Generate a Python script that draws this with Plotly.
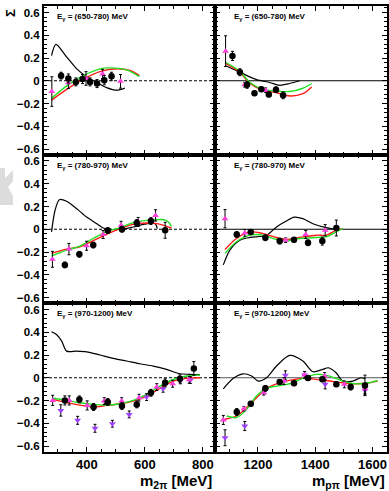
import plotly.graph_objects as go
from plotly.subplots import make_subplots

# ---------------- data ----------------
# Panel labels
panel_labels = ["(650-780)", "(780-970)", "(970-1200)"]

# ---- Row 1 left (m_2pi) ----
r1l_blk_x = [311, 336, 362, 385, 411, 435, 460, 485]
r1l_blk_y = [0.045, 0.02, -0.01, 0.015, -0.01, -0.025, 0.005, 0.04]
r1l_blk_e = [0.03, 0.04, 0.035, 0.04, 0.035, 0.035, 0.04, 0.035]
r1l_mag_x = [279, 336, 397, 454, 516]
r1l_mag_y = [-0.095, -0.018, 0.02, 0.06, -0.005]
r1l_mag_e = [0.13, 0.05, 0.06, 0.04, 0.06]
r1l_cb_x = [278, 293, 330, 365, 399, 434, 468, 503, 531]
r1l_cb_y = [0.22, 0.32, 0.21, 0.105, 0.036, -0.015, -0.06, -0.083, -0.065]
r1l_cr_x = [278, 330, 388, 445, 503, 549, 581]
r1l_cr_y = [-0.17, -0.075, 0.015, 0.08, 0.105, 0.09, 0.045]
r1l_cg_x = [278, 330, 388, 445, 479, 537, 581]
r1l_cg_y = [-0.155, -0.045, 0.045, 0.105, 0.113, 0.095, 0.036]

# ---- Row 1 right (m_ppi) ----
r1r_blk_x = [1111, 1137, 1162, 1188, 1212, 1238, 1263, 1288]
r1r_blk_y = [0.218, 0.075, -0.036, -0.11, -0.075, -0.12, -0.078, -0.128]
r1r_blk_e = [0.04, 0.03, 0.03, 0.02, 0.02, 0.02, 0.025, 0.03]
r1r_mag_x = [1087, 1154, 1227]
r1r_mag_y = [0.26, -0.036, -0.083]
r1r_mag_e = [0.135, 0.02, 0.02]
r1r_cb_x = [1085, 1137, 1195, 1241, 1276, 1311, 1346]
r1r_cb_y = [0.134, 0.075, 0.01, -0.015, -0.04, -0.024, 0.0]
r1r_cr_x = [1085, 1137, 1172, 1218, 1265, 1311, 1357, 1388]
r1r_cr_y = [0.155, 0.075, -0.024, -0.083, -0.105, -0.134, -0.114, -0.054]
r1r_cg_x = [1085, 1137, 1172, 1218, 1265, 1311, 1357, 1388]
r1r_cg_y = [0.165, 0.084, -0.015, -0.075, -0.09, -0.095, -0.066, -0.024]

# ---- Row 2 left ----
r2l_blk_x = [324, 374, 422, 472, 521, 572, 621, 670]
r2l_blk_y = [-0.313, -0.22, -0.139, -0.011, 0.0, 0.055, 0.072, -0.009]
r2l_blk_e = [0.025, 0.025, 0.025, 0.025, 0.025, 0.03, 0.03, 0.07]
r2l_mag_x = [281, 338, 399, 456, 518, 577, 637]
r2l_mag_y = [-0.264, -0.174, -0.145, -0.046, 0.035, 0.064, 0.122]
r2l_mag_e = [0.07, 0.05, 0.04, 0.035, 0.035, 0.04, 0.05]
r2l_cb_x = [278, 290, 305, 330, 365, 399, 434, 456, 479, 520, 560, 600, 635, 643]
r2l_cb_y = [-0.023, 0.165, 0.26, 0.246, 0.18, 0.107, 0.049, 0.011, 0.0, 0.0, 0.02, 0.045, 0.05, 0.006]
r2l_cr_x = [278, 330, 376, 422, 468, 514, 560, 606, 641, 675, 692]
r2l_cr_y = [-0.212, -0.174, -0.154, -0.10, -0.044, 0.006, 0.043, 0.055, 0.05, 0.026, 0.011]
r2l_cg_x = [278, 330, 376, 422, 468, 514, 560, 606, 666, 681, 692]
r2l_cg_y = [-0.235, -0.183, -0.148, -0.081, -0.023, 0.015, 0.058, 0.078, 0.084, 0.064, 0.026]

# ---- Row 2 right ----
r2r_blk_x = [1126, 1175, 1226, 1276, 1326, 1375, 1425, 1474]
r2r_blk_y = [-0.046, -0.023, -0.075, -0.104, -0.093, -0.119, -0.104, 0.011]
r2r_blk_e = [0.025, 0.02, 0.025, 0.025, 0.02, 0.025, 0.035, 0.07]
r2r_mag_x = [1085, 1154, 1297, 1367, 1435]
r2r_mag_y = [0.093, -0.032, -0.096, -0.046, -0.009]
r2r_mag_e = [0.08, 0.03, 0.02, 0.035, 0.05]
r2r_cb_x = [1079, 1102, 1137, 1172, 1230, 1265, 1299, 1327, 1357, 1392, 1438, 1473]
r2r_cb_y = [-0.313, -0.183, -0.096, -0.072, -0.052, 0.02, 0.072, 0.107, 0.093, 0.049, 0.015, 0.0]
r2r_cr_x = [1085, 1125, 1172, 1218, 1265, 1299, 1346, 1404, 1438, 1473, 1496]
r2r_cr_y = [-0.177, -0.081, -0.023, -0.038, -0.072, -0.09, -0.072, -0.052, -0.052, -0.009, 0.006]
r2r_cg_x = [1085, 1125, 1172, 1218, 1265, 1299, 1346, 1404, 1438, 1473, 1496]
r2r_cg_y = [-0.212, -0.11, -0.052, -0.052, -0.09, -0.101, -0.081, -0.072, -0.067, -0.023, 0.006]

# ---- Row 3 left ----
r3l_blk_x = [324, 374, 423, 472, 521, 572, 621, 670, 721, 769]
r3l_blk_y = [-0.199, -0.19, -0.257, -0.213, -0.248, -0.234, -0.132, -0.044, -0.009, 0.082]
r3l_blk_e = [0.04, 0.03, 0.03, 0.03, 0.03, 0.03, 0.03, 0.035, 0.035, 0.06]
r3l_mag_x = [282, 339, 401, 460, 520, 580, 641, 696, 753]
r3l_mag_y = [-0.199, -0.199, -0.243, -0.205, -0.205, -0.175, -0.082, -0.053, -0.018]
r3l_mag_e = [0.045, 0.04, 0.04, 0.03, 0.03, 0.03, 0.03, 0.03, 0.03]
r3l_pur_x = [310, 368, 428, 488, 546, 606, 663, 723, 757]
r3l_pur_y = [-0.287, -0.374, -0.444, -0.404, -0.322, -0.17, -0.097, -0.023, -0.02]
r3l_pur_e = [0.05, 0.035, 0.035, 0.03, 0.03, 0.03, 0.03, 0.03, 0.03]
r3l_cb_x = [278, 295, 313, 330, 365, 399, 445, 491, 537, 583, 629, 675, 721, 755, 790]
r3l_cb_y = [0.404, 0.38, 0.322, 0.234, 0.234, 0.228, 0.2, 0.17, 0.147, 0.123, 0.103, 0.074, 0.035, 0.03, 0.025]
r3l_cr_x = [284, 330, 376, 422, 468, 514, 560, 606, 652, 698, 744, 790]
r3l_cr_y = [-0.19, -0.219, -0.24, -0.257, -0.243, -0.228, -0.205, -0.161, -0.093, -0.029, -0.005, 0.0]
r3l_cg_x = [284, 330, 376, 422, 468, 514, 560, 606, 652, 698, 744, 790]
r3l_cg_y = [-0.18, -0.199, -0.22, -0.234, -0.24, -0.228, -0.199, -0.146, -0.073, -0.015, 0.015, 0.023]

# ---- Row 3 right ----
r3r_blk_x = [1126, 1175, 1226, 1276, 1326, 1375, 1425, 1474, 1524, 1574]
r3r_blk_y = [-0.301, -0.228, -0.093, -0.038, -0.049, -0.003, -0.014, -0.058, -0.082, -0.067]
r3r_blk_e = [0.03, 0.02, 0.025, 0.02, 0.02, 0.02, 0.02, 0.02, 0.025, 0.09]
r3r_mag_x = [1079, 1151, 1220, 1291, 1363, 1433, 1502, 1574]
r3r_mag_y = [-0.371, -0.272, -0.132, -0.029, 0.024, 0.015, -0.058, -0.097]
r3r_mag_e = [0.04, 0.02, 0.02, 0.03, 0.03, 0.03, 0.03, 0.04]
r3r_pur_x = [1085, 1154, 1224, 1296, 1363, 1435, 1574]
r3r_pur_y = [-0.527, -0.424, -0.111, 0.021, 0.024, -0.058, -0.11]
r3r_pur_e = [0.07, 0.04, 0.03, 0.04, 0.03, 0.04, 0.04]
r3r_cb_x = [1079, 1114, 1148, 1178, 1201, 1230, 1265, 1311, 1357, 1392, 1427, 1446, 1473, 1496, 1531, 1560, 1575]
r3r_cb_y = [-0.097, -0.005, 0.035, 0.015, -0.029, 0.0, 0.103, 0.196, 0.147, 0.053, 0.074, 0.088, 0.044, -0.029, -0.029, 0.0, -0.01]
r3r_cr_x = [1085, 1125, 1160, 1195, 1230, 1265, 1311, 1357, 1404, 1450, 1496, 1543, 1589, 1618]
r3r_cr_y = [-0.365, -0.336, -0.263, -0.176, -0.093, -0.053, -0.023, -0.005, -0.014, -0.029, -0.044, -0.053, -0.044, -0.029]
r3r_cg_x = [1091, 1125, 1160, 1195, 1230, 1265, 1311, 1357, 1404, 1450, 1496, 1543, 1589, 1618]
r3r_cg_y = [-0.336, -0.35, -0.28, -0.161, -0.093, -0.073, -0.053, -0.005, 0.03, 0.015, -0.029, -0.053, -0.044, -0.023]

panels = [
    dict(r=1, c=1, blk=(r1l_blk_x, r1l_blk_y, r1l_blk_e), mag=(r1l_mag_x, r1l_mag_y, r1l_mag_e), pur=None,
         cb=(r1l_cb_x, r1l_cb_y), cr=(r1l_cr_x, r1l_cr_y), cg=(r1l_cg_x, r1l_cg_y), lab=panel_labels[0]),
    dict(r=1, c=2, blk=(r1r_blk_x, r1r_blk_y, r1r_blk_e), mag=(r1r_mag_x, r1r_mag_y, r1r_mag_e), pur=None,
         cb=(r1r_cb_x, r1r_cb_y), cr=(r1r_cr_x, r1r_cr_y), cg=(r1r_cg_x, r1r_cg_y), lab=panel_labels[0]),
    dict(r=2, c=1, blk=(r2l_blk_x, r2l_blk_y, r2l_blk_e), mag=(r2l_mag_x, r2l_mag_y, r2l_mag_e), pur=None,
         cb=(r2l_cb_x, r2l_cb_y), cr=(r2l_cr_x, r2l_cr_y), cg=(r2l_cg_x, r2l_cg_y), lab=panel_labels[1]),
    dict(r=2, c=2, blk=(r2r_blk_x, r2r_blk_y, r2r_blk_e), mag=(r2r_mag_x, r2r_mag_y, r2r_mag_e), pur=None,
         cb=(r2r_cb_x, r2r_cb_y), cr=(r2r_cr_x, r2r_cr_y), cg=(r2r_cg_x, r2r_cg_y), lab=panel_labels[1]),
    dict(r=3, c=1, blk=(r3l_blk_x, r3l_blk_y, r3l_blk_e), mag=(r3l_mag_x, r3l_mag_y, r3l_mag_e), pur=(r3l_pur_x, r3l_pur_y, r3l_pur_e),
         cb=(r3l_cb_x, r3l_cb_y), cr=(r3l_cr_x, r3l_cr_y), cg=(r3l_cg_x, r3l_cg_y), lab=panel_labels[2]),
    dict(r=3, c=2, blk=(r3r_blk_x, r3r_blk_y, r3r_blk_e), mag=(r3r_mag_x, r3r_mag_y, r3r_mag_e), pur=(r3r_pur_x, r3r_pur_y, r3r_pur_e),
         cb=(r3r_cb_x, r3r_cb_y), cr=(r3r_cr_x, r3r_cr_y), cg=(r3r_cg_x, r3r_cg_y), lab=panel_labels[2]),
]

# ---------------- figure ----------------
W, H = 389, 491
FONT = "Liberation Sans"
fig = make_subplots(rows=3, cols=2, horizontal_spacing=0, vertical_spacing=0)

col_px = {1: (44, 215), 2: (215, 387)}
row_px = {1: (6, 154.5), 2: (154.5, 303), 3: (303, 451.5)}
xranges = {1: [252, 842], 2: [1050, 1651]}
yrange = [-0.648, 0.657]

GREEN = "#22e022"
RED = "#ff1a1a"
MAG = "#ff3ddc"
PUR = "#a040ff"

def err(e, col):
    return dict(type="data", array=e, visible=True, color=col, thickness=1, width=1.5)

for p in panels:
    r, c = p["r"], p["c"]
    fig.add_trace(go.Scatter(x=p["cb"][0], y=p["cb"][1], mode="lines", line=dict(color="black", width=1.2, shape="spline", smoothing=0.8), showlegend=False), row=r, col=c)
    fig.add_trace(go.Scatter(x=p["cr"][0], y=p["cr"][1], mode="lines", line=dict(color=RED, width=1.4, shape="spline", smoothing=0.8), showlegend=False), row=r, col=c)
    fig.add_trace(go.Scatter(x=p["cg"][0], y=p["cg"][1], mode="lines", line=dict(color=GREEN, width=1.4, shape="spline", smoothing=0.8), showlegend=False), row=r, col=c)
    if p["pur"] is not None:
        x, y, e = p["pur"]
        fig.add_trace(go.Scatter(x=x, y=y, mode="markers", marker=dict(symbol="triangle-down", size=6, color=PUR),
                                 error_y=err(e, "black"), showlegend=False), row=r, col=c)
    x, y, e = p["mag"]
    fig.add_trace(go.Scatter(x=x, y=y, mode="markers", marker=dict(symbol="triangle-up", size=6, color=MAG),
                             error_y=err(e, "black"), showlegend=False), row=r, col=c)
    x, y, e = p["blk"]
    fig.add_trace(go.Scatter(x=x, y=y, mode="markers", marker=dict(symbol="circle", size=6.5, color="black"),
                             error_y=err(e, "black"), showlegend=False), row=r, col=c)

    # zero line
    if c == 1:
        zl = dict(color="black", width=1.2, dash="3px,2px")
    else:
        zl = dict(color="#555555" if r == 3 else "black", width=1.2)
    idx = (r - 1) * 2 + c
    xname = "x" if idx == 1 else f"x{idx}"
    yname = "y" if idx == 1 else f"y{idx}"
    fig.add_shape(type="line", xref=f"{xname} domain", yref=yname, x0=0, x1=1, y0=0, y1=0, line=zl, layer="below")

    # panel label
    x0, x1 = col_px[c]
    ytop = row_px[r][0]
    fig.add_annotation(xref="paper", yref="paper",
                       x=(x0 + (11 if c == 1 else 17)) / W, y=1 - (ytop + 11) / H,
                       xanchor="left", yanchor="middle", showarrow=False,
                       text="<b>E<sub>γ</sub> = " + p["lab"] + " MeV</b>",
                       font=dict(family=FONT, size=8, color="black"))

    # axes
    xa = dict(domain=[x0 / W, x1 / W], range=xranges[c], showline=True, linecolor="black", linewidth=2,
              mirror="allticks", ticks="inside", ticklen=5, tickwidth=1.2, tickcolor="black",
              dtick=200, tick0=0, showgrid=False, zeroline=False,
              minor=dict(dtick=50, ticklen=3, tickwidth=1, ticks="inside", tickcolor="black", showgrid=False),
              showticklabels=(r == 3),
              tickfont=dict(family=FONT, size=13, color="black", weight="bold"))
    ya = dict(domain=[1 - row_px[r][1] / H, 1 - row_px[r][0] / H], range=yrange, showline=True, linecolor="black",
              linewidth=2, mirror="allticks", ticks="inside", ticklen=5, tickwidth=1.2, tickcolor="black",
              dtick=0.2, tick0=0, showgrid=False, zeroline=False,
              minor=dict(dtick=0.04, ticklen=3, tickwidth=1, ticks="inside", tickcolor="black", showgrid=False),
              showticklabels=(c == 1), tickformat=".1~f",
              tickfont=dict(family=FONT, size=11.5, color="black", weight="bold"))
    fig.layout[("xaxis" if idx == 1 else f"xaxis{idx}")].update(xa)
    fig.layout[("yaxis" if idx == 1 else f"yaxis{idx}")].update(ya)

# axis titles
fig.add_annotation(xref="paper", yref="paper", x=214 / W, y=1 - 481 / H, xanchor="right", yanchor="middle",
                   showarrow=False, text="<b>m<sub>2π</sub> [MeV]</b>", font=dict(family=FONT, size=15, color="black"))
fig.add_annotation(xref="paper", yref="paper", x=387 / W, y=1 - 481 / H, xanchor="right", yanchor="middle",
                   showarrow=False, text="<b>m<sub>pπ</sub> [MeV]</b>", font=dict(family=FONT, size=15, color="black"))
fig.add_annotation(xref="paper", yref="paper", x=11 / W, y=1 - 13 / H, xanchor="center", yanchor="middle",
                   showarrow=False, text="<b>Σ</b>", textangle=-90, font=dict(family=FONT, size=13, color="black"))

# faint watermark fragment at left edge
path = "M 0 {a} L 5 {a} L 5 {b} L 13 {c} L 13 {d} L 8 {e} L 13 {f} L 13 {g} L 0 {g} Z"
ys = [168, 178, 170, 181, 187, 196, 205]
yp = [1 - v / H for v in ys]
fig.add_shape(type="path", xref="paper", yref="paper",
              path=path.format(a=yp[0], b=yp[1], c=yp[2], d=yp[3], e=yp[4], f=yp[5], g=yp[6]).replace(" 5 ", " " + str(5 / W) + " ").replace(" 13 ", " " + str(13 / W) + " ").replace(" 8 ", " " + str(8 / W) + " "),
              fillcolor="#dcdcdc", line=dict(width=0), layer="below")

fig.update_layout(width=W, height=H, margin=dict(l=0, r=0, t=0, b=0), paper_bgcolor="white", plot_bgcolor="white",
                  showlegend=False, font=dict(family=FONT, color="black"))

fig.write_html("out.html")
